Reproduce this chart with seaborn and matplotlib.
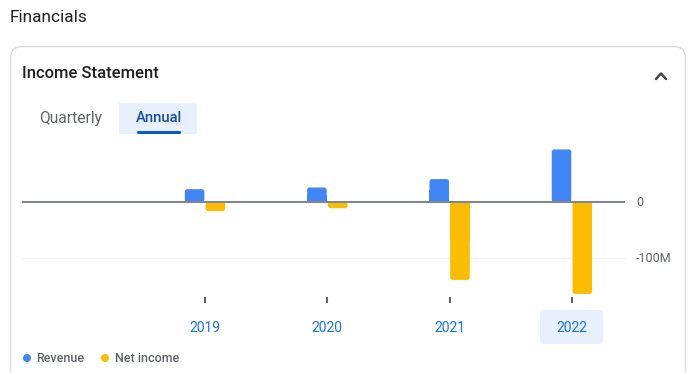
import matplotlib
matplotlib.use("Agg")
import matplotlib.pyplot as plt
import seaborn as sns
import pandas as pd
from matplotlib.patches import FancyBboxPatch, Circle
from matplotlib.lines import Line2D
from matplotlib.transforms import IdentityTransform

years = ["2019", "2020", "2021", "2022"]
revenue = [22, 25, 40, 93]          # millions
net_income = [-17, -12, -140, -165]  # millions
series_names = ["Revenue", "Net income"]
series_colors = ["#4285f4", "#fbbc04"]
ytick_vals = [0, -100]
ytick_labels = ["0", "-100M"]

df = pd.DataFrame({
    "year": years * 2,
    "value": revenue + net_income,
    "series": [series_names[0]] * 4 + [series_names[1]] * 4,
})

sns.set_theme(style="white")
plt.rcParams["font.family"] = ["Roboto", "DejaVu Sans"]

W, H = 696, 373
fig = plt.figure(figsize=(W / 100, H / 100), dpi=100)
fig.patch.set_facecolor("white")
idt = IdentityTransform()

def py(y):
    return H - y

# card border
card = FancyBboxPatch((10.5, py(420)), 675, 420 - 46.5,
                      boxstyle="round,pad=0,rounding_size=12",
                      transform=idt, facecolor="none", edgecolor="#dadce0",
                      linewidth=1.0, zorder=0)
fig.patches.append(card)

fig.text(10 / W, 1 - 18 / H, "Financials", fontsize=12.4, color="#202124",
         ha="left", va="center")
fig.text(22 / W, 1 - 74 / H, "Income Statement", fontsize=12, color="#1f1f1f",
         ha="left", va="center", fontweight="medium")

# chevron
fig.lines.append(Line2D([656, 661, 666], [py(79), py(73.5), py(79)],
                        transform=idt, color="#444746", linewidth=1.8,
                        solid_capstyle="round", solid_joinstyle="round"))

# tabs
tab = FancyBboxPatch((119, py(134)), 78, 31, boxstyle="square,pad=0",
                     transform=idt, facecolor="#e8f0fe", edgecolor="none", zorder=0)
fig.patches.append(tab)
under = FancyBboxPatch((137, py(134)), 44, 3, boxstyle="round,pad=0,rounding_size=1.5",
                       transform=idt, facecolor="#0b57d0", edgecolor="none", zorder=1)
fig.patches.append(under)
fig.text(70.5 / W, 1 - 118 / H, "Quarterly", fontsize=11.2, color="#5f6368",
         ha="center", va="center")
fig.text(158.5 / W, 1 - 118 / H, "Annual", fontsize=10.6, color="#174ea6",
         ha="center", va="center", fontweight="medium")

# 2022 highlight
hl = FancyBboxPatch((540, py(344)), 63, 34, boxstyle="round,pad=0,rounding_size=3",
                    transform=idt, facecolor="#e8f0fe", edgecolor="none", zorder=0)
fig.patches.append(hl)

# axes
ax_left, ax_right = 22, 625
ax_top, ax_bot = 130, 297
ax = fig.add_axes([ax_left / W, 1 - ax_bot / H, (ax_right - ax_left) / W,
                   (ax_bot - ax_top) / H])
ax.set_facecolor("none")
ax.set_zorder(3)

sns.barplot(data=df, x="year", y="value", hue="series", palette=series_colors,
            width=0.34, gap=0.06, ax=ax, legend=False, saturation=1,
            edgecolor="none", linewidth=0)

px_per_cat = 122.3
ax.set_xlim((ax_left - 205) / px_per_cat, (ax_right - 205) / px_per_cat)
ax.set_ylim(-(ax_bot - 201.5) / 56 * 100, (201.5 - ax_top) / 56 * 100)

# rounded outer ends of the bars
x_per_px = (ax.get_xlim()[1] - ax.get_xlim()[0]) / (ax_right - ax_left)
y_per_px = (ax.get_ylim()[1] - ax.get_ylim()[0]) / (ax_bot - ax_top)
aspect = y_per_px / x_per_px
for p in list(ax.patches):
    x, y, w, h = p.get_x(), p.get_y(), p.get_width(), p.get_height()
    y0 = min(y, y + h)
    rb = FancyBboxPatch((x, y0), w, abs(h),
                        boxstyle=f"round,pad=0,rounding_size={2.5 * x_per_px}",
                        mutation_aspect=aspect, facecolor=p.get_facecolor(),
                        edgecolor="none", zorder=p.get_zorder())
    ax.add_patch(rb)
    p.set_height(h / 2)

ax.axhline(0, color="#80868b", linewidth=1.5, zorder=5)
ax.axhline(-100, color="#f1f3f4", linewidth=1.0, zorder=0)

for s in ax.spines.values():
    s.set_visible(False)

ax.yaxis.tick_right()
ax.set_yticks(ytick_vals)
ax.set_yticklabels(ytick_labels)
ax.tick_params(axis="y", length=0, pad=8, labelsize=9, labelcolor="#5f6368")
ax.set_xticks(range(len(years)))
ax.set_xticklabels(years)
ax.tick_params(axis="x", direction="out", length=4, width=1.5, color="#5f6368",
               pad=13, labelsize=10, labelcolor="#1a73e8", bottom=True)
ax.set_xlabel("")
ax.set_ylabel("")

# legend
for cx, tx, name, col in [(27, 36, series_names[0], series_colors[0]),
                          (105, 115, series_names[1], series_colors[1])]:
    fig.patches.append(Circle((cx, py(358)), 4, transform=idt, facecolor=col,
                              edgecolor="none"))
    fig.text(tx / W, 1 - 358 / H, name, fontsize=9, color="#5f6368",
             ha="left", va="center", fontweight="medium")

fig.savefig("out.png", dpi=100)
